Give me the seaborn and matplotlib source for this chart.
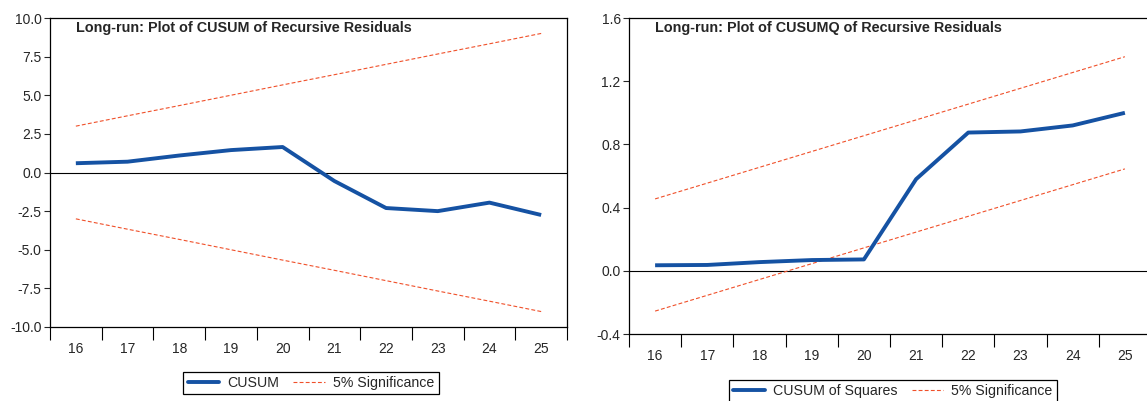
import matplotlib
matplotlib.use("Agg")
import matplotlib.pyplot as plt
import seaborn as sns
import numpy as np
import pandas as pd
from matplotlib.lines import Line2D
from matplotlib.ticker import MultipleLocator, FixedLocator

# observations
periods = [16, 17, 18, 19, 20, 21, 22, 23, 24, 25]

# CUSUM of recursive residuals and its 5% bounds
cusum = [0.6, 0.7, 1.1, 1.45, 1.65, -0.55, -2.3, -2.5, -1.95, -2.75]
cusum_upper = [3.0, 3.67, 4.33, 5.0, 5.67, 6.33, 7.0, 7.67, 8.33, 9.0]
cusum_lower = [-3.0, -3.67, -4.33, -5.0, -5.67, -6.33, -7.0, -7.67, -8.33, -9.0]

# CUSUM of squares and its 5% bounds
cusumq = [0.035, 0.037, 0.055, 0.068, 0.072, 0.58, 0.875, 0.882, 0.92, 1.0]
cusumq_upper = [0.455, 0.555, 0.655, 0.755, 0.855, 0.955, 1.055, 1.155, 1.255, 1.355]
cusumq_lower = [-0.255, -0.155, -0.055, 0.045, 0.145, 0.245, 0.345, 0.445, 0.545, 0.645]

sns.set_style("ticks")
plt.rcParams['font.family'] = ['Liberation Sans', 'DejaVu Sans']

blue = "#1552a3"
red = "#f0502a"

fig = plt.figure(figsize=(11.47, 4.01), dpi=100)
W, H = 1147.0, 401.0
ax1 = fig.add_axes([50 / W, (H - 327) / H, 517 / W, 309 / H])
ax2 = fig.add_axes([629 / W, (H - 334) / H, 522 / W, 316 / H])


def draw_panel(ax, main, upper, lower, title, ylim, ystep, fmt):
    df = pd.DataFrame({"period": periods, "main": main, "upper": upper, "lower": lower})
    ax.axhline(0, color="black", lw=0.8, zorder=1)
    sns.lineplot(data=df, x="period", y="upper", ax=ax, color=red, lw=0.8,
                 linestyle=(0, (3.5, 2)), zorder=2)
    sns.lineplot(data=df, x="period", y="lower", ax=ax, color=red, lw=0.8,
                 linestyle=(0, (3.5, 2)), zorder=2)
    sns.lineplot(data=df, x="period", y="main", ax=ax, color=blue, lw=2.8,
                 zorder=3, solid_capstyle="butt")
    ax.set_xlim(15.5, 25.5)
    ax.set_ylim(*ylim)
    ax.yaxis.set_major_locator(MultipleLocator(ystep))
    ax.yaxis.set_major_formatter(plt.FuncFormatter(lambda v, p: fmt.format(v)))
    ax.xaxis.set_major_locator(FixedLocator(periods))
    ax.xaxis.set_minor_locator(FixedLocator([p + 0.5 for p in [15] + periods]))
    ax.tick_params(axis="x", which="major", length=0, pad=11, labelsize=10)
    ax.tick_params(axis="x", which="minor", length=9, width=0.8, color="black")
    ax.tick_params(axis="y", length=4, width=0.8, labelsize=10, pad=2)
    ax.set_xlabel("")
    ax.set_ylabel("")
    for s in ax.spines.values():
        s.set_linewidth(0.9)
        s.set_color("black")
    ax.text(0.05, 0.99, title, transform=ax.transAxes, fontsize=10.4,
            fontweight="bold", va="top", ha="left")


draw_panel(ax1, cusum, cusum_upper, cusum_lower,
           "Long-run: Plot of CUSUM of Recursive Residuals", (-10, 10), 2.5, "{:.1f}")
draw_panel(ax2, cusumq, cusumq_upper, cusumq_lower,
           "Long-run: Plot of CUSUMQ of Recursive Residuals", (-0.4, 1.6), 0.4, "{:.1f}")


def add_legend(label, cx, cy):
    handles = [Line2D([], [], color=blue, lw=2.8),
               Line2D([], [], color=red, lw=0.8, linestyle=(0, (3.5, 2)))]
    leg = fig.legend(handles, [label, "5% Significance"], loc="center",
                     bbox_to_anchor=(cx / W, 1 - cy / H), ncol=2, fontsize=10.2,
                     frameon=True, fancybox=False, edgecolor="black", framealpha=1,
                     handlelength=2.2, columnspacing=1.0, handletextpad=0.6,
                     borderpad=0.3)
    leg.get_frame().set_linewidth(0.9)


add_legend("CUSUM", 311, 383)
add_legend("CUSUM of Squares", 893, 391)

fig.savefig("out.png", dpi=100)
